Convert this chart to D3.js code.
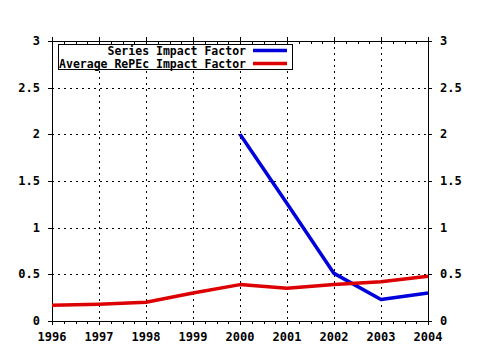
<!DOCTYPE html>
<html><head><meta charset="utf-8">
<script src="https://cdn.jsdelivr.net/npm/d3@7"></script>
<style>body{margin:0;background:#fff}svg{display:block}</style>
</head><body>
<svg id="c" width="480" height="350"></svg>
<script>
const years = [1996,1997,1998,1999,2000,2001,2002,2003,2004];
const seriesIF = [null,null,null,null,2.0,1.26,0.51,0.23,0.30];
const avgIF = [0.17,0.18,0.20,0.30,0.39,0.35,0.39,0.42,0.48];
const yTicks = [0,0.5,1,1.5,2,2.5,3];
const yTickLabels = ["0","0.5","1","1.5","2","2.5","3"];
const seriesNames = ["Series Impact Factor","Average RePEc Impact Factor"];
const colors = ["#0000dd","#dd0000"];

const svg = d3.select("#c");
const L=52, R=428, T=41, B=321;
const x = d3.scaleLinear().domain([1996,2004]).range([L,R]);
const y = d3.scaleLinear().domain([0,3]).range([B,T]);
const font = "'DejaVu Sans Mono', monospace";

// grid
const g = svg.append("g");
g.selectAll(".vg").data(years.slice(1,-1)).enter().append("line")
  .attr("x1",d=>Math.round(x(d))+0.5).attr("x2",d=>Math.round(x(d))+0.5)
  .attr("y1",T).attr("y2",B).attr("stroke","#000").attr("stroke-dasharray","2,4").attr("stroke-width",1);
g.selectAll(".hg").data(yTicks.slice(1,-1)).enter().append("line")
  .attr("y1",d=>Math.round(y(d))+0.5).attr("y2",d=>Math.round(y(d))+0.5)
  .attr("x1",L).attr("x2",R).attr("stroke","#000").attr("stroke-dasharray","2,4").attr("stroke-width",1);

// minor quarter ticks
const quarters = d3.range(1996,2004.001,0.25);
svg.selectAll(".qb").data(quarters).enter().append("line")
  .attr("x1",d=>Math.round(x(d))+0.5).attr("x2",d=>Math.round(x(d))+0.5)
  .attr("y1",B).attr("y2",d=>Number.isInteger(d)?B+4:B+3).attr("stroke","#000");
svg.selectAll(".qt").data(quarters).enter().append("line")
  .attr("x1",d=>Math.round(x(d))+0.5).attr("x2",d=>Math.round(x(d))+0.5)
  .attr("y1",d=>Number.isInteger(d)?T-4:T).attr("y2",T+3).attr("stroke","#000");
// y ticks
svg.selectAll(".yl").data(yTicks).enter().append("line")
  .attr("x1",L-4).attr("x2",L).attr("y1",d=>Math.round(y(d))+0.5).attr("y2",d=>Math.round(y(d))+0.5).attr("stroke","#000");
svg.selectAll(".yr").data(yTicks).enter().append("line")
  .attr("x1",R).attr("x2",R+4).attr("y1",d=>Math.round(y(d))+0.5).attr("y2",d=>Math.round(y(d))+0.5).attr("stroke","#000");

// frame
svg.append("rect").attr("x",L+0.5).attr("y",T+0.5).attr("width",R-L).attr("height",B-T)
  .attr("fill","none").attr("stroke","#000").attr("stroke-width",1);

// labels
svg.selectAll(".ytl").data(yTicks).enter().append("text")
  .attr("x",L-12).attr("y",d=>y(d)+4).attr("text-anchor","end")
  .attr("font-family",font).attr("font-weight","bold").attr("font-size",12)
  .text((d,i)=>yTickLabels[i]);
svg.selectAll(".ytr").data(yTicks).enter().append("text")
  .attr("x",R+12).attr("y",d=>y(d)+4).attr("text-anchor","start")
  .attr("font-family",font).attr("font-weight","bold").attr("font-size",12)
  .text((d,i)=>yTickLabels[i]);
svg.selectAll(".xt").data(years).enter().append("text")
  .attr("x",d=>x(d)).attr("y",B+20).attr("text-anchor","middle")
  .attr("font-family",font).attr("font-weight","bold").attr("font-size",12)
  .text(d=>d);

// lines
const line = d3.line().defined(d=>d[1]!==null).x(d=>x(d[0])).y(d=>y(d[1]));
[seriesIF, avgIF].forEach((s,i)=>{
  svg.append("path").datum(years.map((yr,j)=>[yr,s[j]]))
    .attr("d",line).attr("fill","none").attr("stroke",colors[i]).attr("stroke-width",3.5)
    .attr("stroke-linejoin","round");
});

// legend
svg.append("rect").attr("x",58.5).attr("y",44.5).attr("width",234).attr("height",25)
  .attr("fill","#fff").attr("stroke","#000");
seriesNames.forEach((n,i)=>{
  const yy = 50.5 + i*13;
  svg.append("text").attr("x",246).attr("y",yy+4).attr("text-anchor","end")
    .attr("font-family",font).attr("font-weight","bold").attr("font-size",11.5).text(n);
  svg.append("line").attr("x1",253).attr("x2",287).attr("y1",yy).attr("y2",yy)
    .attr("stroke",colors[i]).attr("stroke-width",3.5);
});
</script>
</body></html>
